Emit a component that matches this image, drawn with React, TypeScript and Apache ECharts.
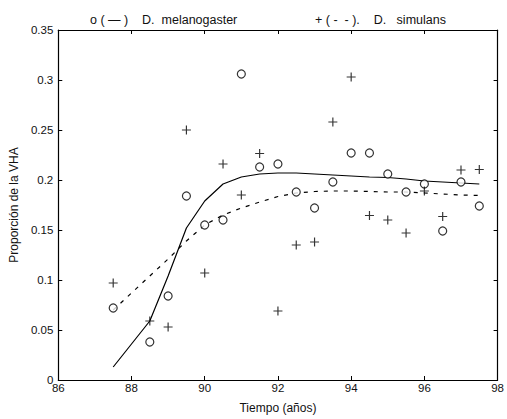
import React, { useEffect, useRef } from "react";
import * as echarts from "echarts";

const years = [87.5, 88.5, 89, 89.5, 90, 90.5, 91, 91.5, 92, 92.5, 93, 93.5, 94, 94.5, 95, 95.5, 96, 96.5, 97, 97.5];
const melanogaster = [0.072, 0.038, 0.084, 0.184, 0.155, 0.16, 0.306, 0.213, 0.216, 0.188, 0.172, 0.198, 0.227, 0.227, 0.206, 0.188, 0.196, 0.149, 0.198, 0.174];
const simulans = [0.097, 0.059, 0.053, 0.25, 0.107, 0.216, 0.185, 0.2265, 0.069, 0.135, 0.138, 0.258, 0.303, 0.1645, 0.16, 0.147, 0.189, 0.1635, 0.21, 0.2105];

const fitYears = [87.5, 88, 88.5, 89, 89.5, 90, 90.5, 91, 91.5, 92, 92.5, 93, 93.5, 94, 94.5, 95, 95.5, 96, 96.5, 97, 97.5];
const melanogasterFit = [0.013, 0.036, 0.059, 0.104, 0.152, 0.179, 0.196, 0.203, 0.206, 0.207, 0.207, 0.206, 0.205, 0.204, 0.203, 0.2025, 0.201, 0.199, 0.198, 0.197, 0.196];
const simulansFit = [0.07, 0.087, 0.104, 0.121, 0.139, 0.155, 0.165, 0.172, 0.178, 0.1835, 0.187, 0.1885, 0.189, 0.189, 0.1885, 0.188, 0.188, 0.187, 0.186, 0.185, 0.1845];

const legendLabels = ["o ( \u2014 )    D.  melanogaster", "+ ( -  - ).    D.   simulans"];
const seriesNames = ["D. melanogaster", "D. simulans"];
const xLabel = "Tiempo (a\u00f1os)";
const yLabel = "Proporci\u00f3n de la VHA";

const FONT = "Liberation Sans";
const CROSS = "path://M0,4.35H4.35V0H5.65V4.35H10V5.65H5.65V10H4.35V5.65H0Z";

export default function App() {
  const ref = useRef<HTMLDivElement>(null);
  useEffect(() => {
    if (!ref.current) return;
    const chart = echarts.init(ref.current, null, { renderer: "svg" });
    const pair = (xs: number[], ys: number[]) => xs.map((x, i) => [x, ys[i]]);
    const axisCommon = {
      type: "value" as const,
      axisLine: { show: true, onZero: false, lineStyle: { color: "#000", width: 1.2 } },
      axisTick: { show: true, inside: true, length: 4, lineStyle: { color: "#000", width: 1 } },
      splitLine: { show: false },
    };
    const legendText = { fontFamily: FONT, fontSize: 12.5, color: "#111" };
    chart.setOption({
      animation: false,
      backgroundColor: "#fff",
      textStyle: { fontFamily: FONT },
      grid: { left: 53, right: 9, top: 30, bottom: 35, containLabel: false },
      legend: [
        {
          data: [seriesNames[0]],
          left: 80,
          top: 8,
          icon: "none",
          itemWidth: 0,
          itemHeight: 0,
          formatter: () => legendLabels[0],
          textStyle: legendText,
          selectedMode: false,
        },
        {
          data: [seriesNames[1]],
          left: 305,
          top: 8,
          icon: "none",
          itemWidth: 0,
          itemHeight: 0,
          formatter: () => legendLabels[1],
          textStyle: legendText,
          selectedMode: false,
        },
      ],
      xAxis: [
        {
          ...axisCommon,
          position: "bottom",
          min: 86,
          max: 98,
          interval: 2,
          name: xLabel,
          nameLocation: "middle",
          nameGap: 22,
          nameTextStyle: { fontFamily: FONT, fontSize: 12, color: "#111" },
          axisLabel: { margin: 2, fontFamily: FONT, fontSize: 11.5, color: "#111" },
        },
        {
          ...axisCommon,
          position: "top",
          min: 86,
          max: 98,
          interval: 2,
          axisLabel: { show: false },
        },
      ],
      yAxis: [
        {
          ...axisCommon,
          position: "left",
          min: 0,
          max: 0.35,
          interval: 0.05,
          name: yLabel,
          nameLocation: "middle",
          nameGap: 37,
          nameTextStyle: { fontFamily: FONT, fontSize: 12, color: "#111" },
          axisLabel: { margin: 5, fontFamily: FONT, fontSize: 11.5, color: "#111" },
        },
        {
          ...axisCommon,
          position: "right",
          min: 0,
          max: 0.35,
          interval: 0.05,
          axisLabel: { show: false },
        },
      ],
      series: [
        {
          type: "line",
          name: "fit-melanogaster",
          data: pair(fitYears, melanogasterFit),
          showSymbol: false,
          symbol: "none",
          lineStyle: { color: "#000", width: 1.2, type: "solid" },
          z: 2,
        },
        {
          type: "line",
          name: "fit-simulans",
          data: pair(fitYears, simulansFit),
          showSymbol: false,
          symbol: "none",
          lineStyle: { color: "#000", width: 1.2, type: [4, 6] },
          z: 2,
        },
        {
          type: "scatter",
          name: seriesNames[0],
          data: pair(years, melanogaster),
          symbol: "circle",
          symbolSize: 8,
          itemStyle: { color: "#fff", borderColor: "#000", borderWidth: 1.2 },
          z: 3,
        },
        {
          type: "scatter",
          name: seriesNames[1],
          data: pair(years, simulans),
          symbol: CROSS,
          symbolSize: 9,
          itemStyle: { color: "#000" },
          z: 4,
        },
      ],
    });
    return () => chart.dispose();
  }, []);
  return <div ref={ref} style={{ width: 507, height: 419, position: "absolute", left: 0, top: 0 }} />;
}
